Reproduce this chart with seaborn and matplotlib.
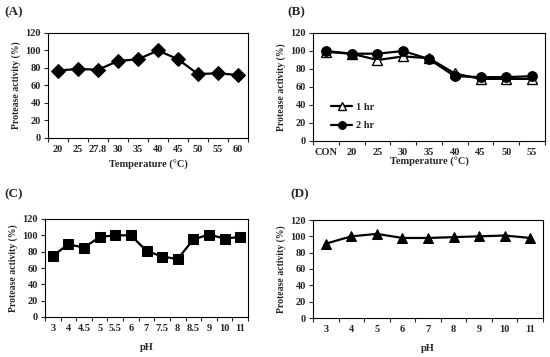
import numpy as np
import pandas as pd
import seaborn as sns
import matplotlib.pyplot as plt
from matplotlib.ticker import FixedLocator

# (A) temperature optimum
temp_a = ["20", "25", "27.8", "30", "35", "40", "45", "50", "55", "60"]
act_a = [77, 79, 78, 88, 90, 100, 90, 73, 74, 72]

# (B) thermal stability
temp_b = ["CON", "20", "25", "30", "35", "40", "45", "50", "55"]
act_b_1hr = [99, 97, 90, 94, 92, 75, 69, 69, 69]
err_b_1hr = [1, 1, 5, 2, 1, 2, 1, 1, 1]
act_b_2hr = [100, 97, 97, 100, 91, 72, 71, 71, 72]

# (C) pH optimum
ph_c = ["3", "4", "4.5", "5", "5.5", "6", "7", "7.5", "8", "8.5", "9", "10", "11"]
act_c = [75, 89, 85, 98, 100, 100, 81, 74, 71, 95, 101, 96, 98]

# (D) pH stability
ph_d = ["3", "4", "5", "6", "7", "8", "9", "10", "11"]
act_d = [91, 100, 103, 98, 98, 99, 100, 101, 98]

sns.set_style("ticks")
plt.rcParams["font.family"] = ["Liberation Serif", "DejaVu Serif"]
plt.rcParams["font.weight"] = "bold"

fig = plt.figure(figsize=(5.5, 3.57), dpi=100)
W, H = 550, 357


def make_ax(l, t, r, b):
    return fig.add_axes([l / W, 1 - b / H, (r - l) / W, (b - t) / H])


def style(ax, cats, xlabel, label, lx, ly):
    n = len(cats)
    ax.set_xlim(-0.5, n - 0.5)
    ax.set_ylim(0, 120)
    ax.set_yticks(range(0, 121, 20))
    ax.set_xticks(range(n))
    ax.set_xticklabels(cats)
    ax.xaxis.set_minor_locator(FixedLocator(np.arange(-0.5, n, 1.0)))
    ax.tick_params(axis="x", which="major", length=0, labelsize=7.5, pad=5)
    ax.tick_params(axis="x", which="minor", length=3, width=0.8, direction="out")
    ax.tick_params(axis="y", length=3, width=0.8, labelsize=7.5, direction="out", pad=2)
    for s in ax.spines.values():
        s.set_linewidth(0.8)
        s.set_color("black")
    ax.set_xlabel(xlabel, fontsize=7.5, fontweight="bold", labelpad=4)
    ax.set_ylabel("Protease activity (%)", fontsize=7, fontweight="bold", labelpad=3)
    fig.text(lx / W, 1 - ly / H, label, fontsize=9.5, fontweight="bold", va="center")


# (A)
ax = make_ax(48, 33, 248, 138)
df = pd.DataFrame({"x": range(len(temp_a)), "y": act_a})
sns.lineplot(data=df, x="x", y="y", ax=ax, color="black", lw=1.6,
             marker="D", markersize=7, markeredgecolor="black")
style(ax, temp_a, "Temperature (°C)", "(A)", 4, 12)

# (B)
ax = make_ax(313, 33, 545, 141)
xb = np.arange(len(temp_b))
ax.errorbar(xb, act_b_1hr, yerr=err_b_1hr, fmt="none", ecolor="black", elinewidth=0.8, capsize=2)
sns.lineplot(x=xb, y=act_b_1hr, ax=ax, color="black", lw=1.6, marker="^", markersize=7,
             markerfacecolor="white", markeredgecolor="black", markeredgewidth=1, label="1 hr")
sns.lineplot(x=xb, y=act_b_2hr, ax=ax, color="black", lw=1.6, marker="o", markersize=7,
             markeredgecolor="black", label="2 hr")
ax.legend(loc="lower left", bbox_to_anchor=(0.06, 0.06), frameon=False, fontsize=7.5,
          handlelength=2.0, handletextpad=0.4, labelspacing=0.9, borderaxespad=0,
          markerscale=0.8)
style(ax, temp_b, "Temperature (°C)", "(B)", 287, 12)
ax.xaxis.labelpad = 0

# (C)
ax = make_ax(45, 219, 248, 317)
df = pd.DataFrame({"x": range(len(ph_c)), "y": act_c})
sns.lineplot(data=df, x="x", y="y", ax=ax, color="black", lw=1.6,
             marker="s", markersize=7, markeredgecolor="black")
style(ax, ph_c, "pH", "(C)", 4, 194)
ax.xaxis.labelpad = 7

# (D)
ax = make_ax(313, 220, 543, 318)
df = pd.DataFrame({"x": range(len(ph_d)), "y": act_d})
sns.lineplot(data=df, x="x", y="y", ax=ax, color="black", lw=1.6,
             marker="^", markersize=7.5, markeredgecolor="black")
style(ax, ph_d, "pH", "(D)", 290, 194)
ax.xaxis.labelpad = 7

fig.savefig("out.png", dpi=100)
